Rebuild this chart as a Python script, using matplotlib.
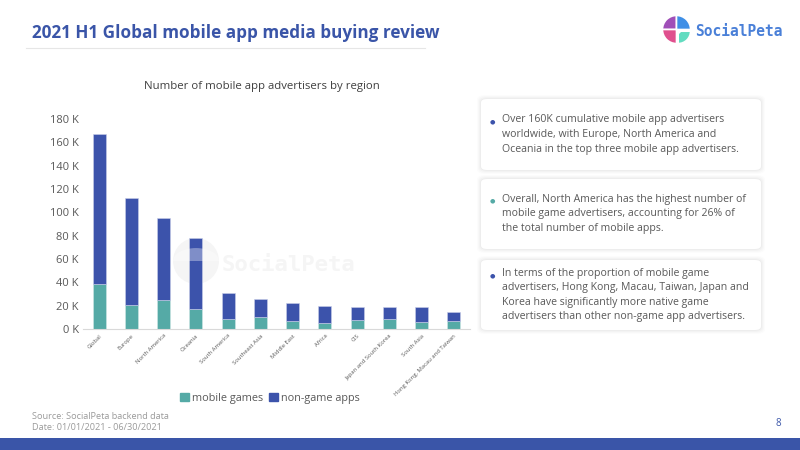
import numpy as np
import matplotlib
matplotlib.use("Agg")
import matplotlib.pyplot as plt
from matplotlib.patches import FancyBboxPatch, Wedge, Rectangle, Ellipse
from matplotlib.lines import Line2D

plt.rcParams["font.family"] = ["Open Sans", "DejaVu Sans"]

# ── data ───────────────────────────────────────────────────────────────────────
regions = ["Global", "Europe", "North America", "Oceania", "South America",
           "Southeast Asia", "Middle East", "Africa", "CIS",
           "Japan and South Korea", "South Asia", "Hong Kong, Macau and Taiwan"]
totals = [167.4, 112.5, 95.3, 77.6, 30.9, 26.1, 22.6, 19.7, 19.2, 19.2, 18.9, 14.9]  # K
games = [38.4, 20.3, 25.2, 17.5, 8.3, 10.0, 7.2, 4.9, 7.5, 8.3, 6.3, 7.2]           # K
non_game = [t - g for t, g in zip(totals, games)]

yticks = [0, 20, 40, 60, 80, 100, 120, 140, 160, 180]

notes = [
    ("Over 160K cumulative mobile app advertisers\nworldwide, with Europe, North America and\n"
     "Oceania in the top three mobile app advertisers."),
    ("Overall, North America has the highest number of\nmobile game advertisers, accounting for 26% of\n"
     "the total number of mobile apps."),
    ("In terms of the proportion of mobile game\nadvertisers, Hong Kong, Macau, Taiwan, Japan and\n"
     "Korea have significantly more native game\nadvertisers than other non-game app advertisers."),
]

TEAL = "#55aaa6"
BLUE = "#3c53ab"
HEAD = "#3a55a8"
GRAY = "#595959"

W, H = 800, 450
fig = plt.figure(figsize=(8, 4.5), dpi=100)

def fx(px):
    return px / W

def fy(py):
    return 1 - py / H

# ── header ─────────────────────────────────────────────────────────────────────
fig.text(fx(32), fy(33), "2021 H1 Global mobile app media buying review",
         fontsize=12.3, fontweight="bold", color=HEAD, va="center", ha="left")
fig.add_artist(Line2D([fx(26), fx(425)], [fy(48), fy(48)], color="#e6e6e6", lw=0.8))

# logo
lax = fig.add_axes([fx(661), fy(45), fx(31), 31 / H])
lax.set_xlim(-1.1, 1.1)
lax.set_ylim(-1.1, 1.1)
lax.set_aspect("equal")
lax.axis("off")
for th1, th2, col in [(90, 180, "#a04fb8"), (180, 270, "#e0508e"),
                      (0, 90, "#3f8fe6")]:
    lax.add_patch(Wedge((0, 0), 1.0, th1, th2, facecolor=col, edgecolor="white", lw=1.2))
lax.add_patch(Wedge((0.12, -0.12), 0.88, 270, 360, width=0.75, facecolor="#62dcc0",
                    edgecolor="white", lw=1.2))
fig.text(fx(695), fy(31), "SocialPeta", fontsize=10.5, fontweight="bold",
         color="#4a80d8", va="center", ha="left", family="DejaVu Sans Mono")

# ── chart ──────────────────────────────────────────────────────────────────────
ax = fig.add_axes([fx(83), fy(329), fx(470 - 83), (329 - 119) / H])
x = np.arange(len(regions))
ax.bar(x, games, width=0.4, color=TEAL, edgecolor="#cfe6e5", lw=0.4, label="mobile games", zorder=2)
ax.bar(x, non_game, width=0.4, bottom=games, color=BLUE, edgecolor="#c9cfe8", lw=0.4,
       label="non-game apps", zorder=2)
ax.set_xlim(-0.5, len(regions) - 0.5)
ax.set_ylim(0, 180)
ax.set_yticks(yticks)
ax.set_yticklabels([f"{v} K" for v in yticks], fontsize=8, color=GRAY)
ax.set_xticks(x)
ax.set_xticklabels(regions, rotation=45, ha="right", rotation_mode="anchor",
                   fontsize=4.2, color=GRAY)
ax.tick_params(axis="both", length=0, pad=3)
for s in ["top", "right", "left"]:
    ax.spines[s].set_visible(False)
ax.spines["bottom"].set_color("#d9d9d9")

fig.text(fx(262), fy(86), "Number of mobile app advertisers by region",
         fontsize=8.2, color="#404040", ha="center", va="center")

# watermark
fig.text(fx(222), fy(265), "SocialPeta", fontsize=16, fontweight="bold",
         color="#f5f5f5", ha="left", va="center", family="DejaVu Sans Mono", zorder=0)
fig.add_artist(Ellipse((fx(196), fy(261)), fx(46), 46 / H, facecolor="#f5f5f5",
                       edgecolor="none", zorder=0.5))
ax.set_zorder(1)
ax.patch.set_alpha(0)
wm = Wedge((fx(196), fy(261)), fx(23), 0, 180, facecolor="white", alpha=0.35,
           edgecolor="none", zorder=5)
fig.add_artist(wm)

handles = [Rectangle((0, 0), 1, 1, color=TEAL), Rectangle((0, 0), 1, 1, color=BLUE)]
fig.legend(handles, ["mobile games", "non-game apps"], loc="center",
           bbox_to_anchor=(fx(270), fy(398)), ncol=2, frameon=False, fontsize=7.8,
           handlelength=0.8, handleheight=0.8, handletextpad=0.3, columnspacing=0.5,
           labelcolor=GRAY)

# ── notes ──────────────────────────────────────────────────────────────────────
boxes = [(99, 170), (179, 249), (260, 330)]
bullet_cols = [BLUE, TEAL, BLUE]
for (top, bot), txt, bc in zip(boxes, notes, bullet_cols):
    for k, a in [(4, 0.012), (3, 0.015), (2, 0.02), (1, 0.025)]:
        fig.add_artist(FancyBboxPatch((fx(481 - k), fy(bot + k)), fx(280 + 2 * k),
                                      (bot - top + 2 * k) / H,
                                      boxstyle="round,pad=0,rounding_size=0.01",
                                      facecolor="black", alpha=a, edgecolor="none"))
    fig.add_artist(FancyBboxPatch((fx(481), fy(bot)), fx(280), (bot - top) / H,
                                  boxstyle="round,pad=0,rounding_size=0.008",
                                  facecolor="white", edgecolor="none"))
    nlines = txt.count("\n") + 1
    ytxt = (top + bot) / 2
    first = ytxt - (nlines - 1) * 13 / 2
    fig.text(fx(492), fy(first), "\u25cf", color=bc, fontsize=4.5, ha="center", va="center")
    fig.text(fx(502), fy(ytxt), txt, fontsize=7.6, color=GRAY, ha="left", va="center",
             linespacing=1.45)

# ── footer ─────────────────────────────────────────────────────────────────────
fig.text(fx(32), fy(422), "Source: SocialPeta backend data\nDate: 01/01/2021 - 06/30/2021",
         fontsize=6.6, color="#9a9a9a", ha="left", va="center", linespacing=1.15)
fig.text(fx(778), fy(423), "8", fontsize=7, color=HEAD, ha="center", va="center")
fig.add_artist(Rectangle((0, 0), 1, 12 / H, facecolor=HEAD, edgecolor="none"))

fig.savefig("out.png", dpi=100)
